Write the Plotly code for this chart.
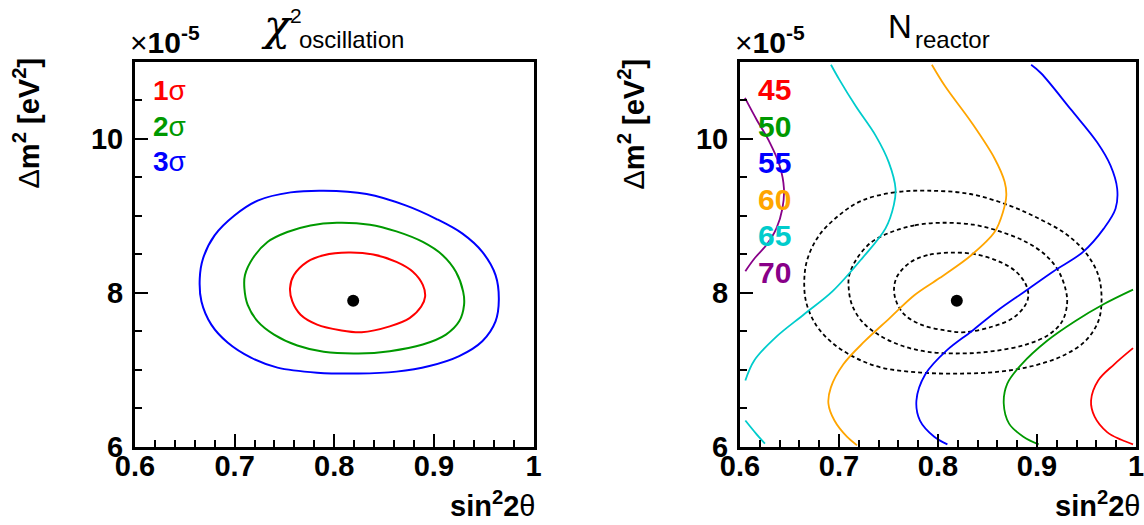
import plotly.graph_objects as go

W, H = 1144, 525

# ---------------- data (x: sin^2 2theta, y: dm^2 in units of 1e-5 eV^2) ----------------
best_fit_x = [0.819]
best_fit_y = [7.895]

sig1_x = [0.8143, 0.7894, 0.7728, 0.7595, 0.7556, 0.7579, 0.7662, 0.7828, 0.8060, 0.8275, 0.8557, 0.8756, 0.8873, 0.8912, 0.8889, 0.8789, 0.8624, 0.8391, 0.8143]
sig1_y = [8.521, 8.487, 8.401, 8.229, 8.058, 7.886, 7.714, 7.586, 7.513, 7.487, 7.563, 7.670, 7.821, 7.950, 8.101, 8.273, 8.401, 8.496, 8.521]

sig2_x = [0.8027, 0.7761, 0.7529, 0.7330, 0.7181, 0.7104, 0.7098, 0.7131, 0.7231, 0.7396, 0.7629, 0.7894, 0.8242, 0.8557, 0.8889, 0.9121, 0.9254, 0.9303, 0.9294, 0.9221, 0.9088, 0.8889, 0.8624, 0.8358, 0.8027]
sig2_y = [8.908, 8.874, 8.788, 8.659, 8.444, 8.229, 8.058, 7.843, 7.628, 7.456, 7.314, 7.233, 7.211, 7.241, 7.327, 7.456, 7.628, 7.843, 8.014, 8.272, 8.487, 8.659, 8.796, 8.883, 8.908]

sig3_x = [0.7894, 0.7562, 0.7231, 0.6998, 0.6799, 0.6683, 0.6650, 0.6667, 0.6766, 0.6932, 0.7164, 0.7430, 0.7828, 0.8242, 0.8624, 0.8955, 0.9254, 0.9486, 0.9619, 0.9652, 0.9619, 0.9486, 0.9287, 0.9022, 0.8723, 0.8325, 0.7894]
sig3_y = [9.325, 9.303, 9.196, 9.003, 8.745, 8.444, 8.187, 7.885, 7.585, 7.349, 7.156, 7.027, 6.962, 6.950, 6.975, 7.048, 7.177, 7.370, 7.628, 7.907, 8.229, 8.530, 8.767, 8.960, 9.131, 9.282, 9.325]

n45_x = [0.997, 0.978, 0.9618, 0.9546, 0.9582, 0.9708, 0.9852, 0.997]
n45_y = [7.28, 7.07, 6.86, 6.60, 6.39, 6.19, 6.09, 6.03]

n50_x = [0.997, 0.9672, 0.9384, 0.9096, 0.8844, 0.8700, 0.8664, 0.8718, 0.8862, 0.9017]
n50_y = [8.04, 7.85, 7.63, 7.37, 7.07, 6.82, 6.56, 6.30, 6.13, 6.03]

n55_x = [0.8941, 0.9041, 0.9342, 0.9609, 0.9743, 0.9810, 0.9793, 0.9676, 0.9466, 0.9168, 0.8880, 0.8592, 0.8340, 0.8088, 0.7872, 0.7782, 0.7818, 0.7962, 0.8095]
n55_y = [10.96, 10.85, 10.38, 9.95, 9.65, 9.35, 9.09, 8.835, 8.53, 8.28, 8.02, 7.76, 7.50, 7.25, 6.94, 6.60, 6.34, 6.13, 6.03]

n60_x = [0.7938, 0.8072, 0.8339, 0.8573, 0.8673, 0.8690, 0.8657, 0.8573, 0.8339, 0.8016, 0.7764, 0.7512, 0.7260, 0.7044, 0.6918, 0.6893, 0.6954, 0.7080, 0.7181]
n60_y = [10.96, 10.68, 10.21, 9.74, 9.44, 9.265, 9.05, 8.79, 8.49, 8.19, 7.97, 7.67, 7.37, 7.07, 6.77, 6.56, 6.34, 6.13, 6.02]

n65a_x = [0.6919, 0.7002, 0.7170, 0.7370, 0.7504, 0.7571, 0.7554, 0.7470, 0.7236, 0.6936, 0.6648, 0.6360, 0.6144, 0.6054]
n65a_y = [10.96, 10.77, 10.42, 10.04, 9.69, 9.35, 9.14, 8.835, 8.45, 8.02, 7.72, 7.42, 7.12, 6.86]

n65b_x = [0.6054, 0.6162, 0.6252]
n65b_y = [6.34, 6.17, 6.04]

n70_x = [0.6050, 0.6167, 0.6301, 0.6401, 0.6444, 0.6428, 0.6368, 0.6267, 0.6150, 0.6054]
n70_y = [10.53, 10.25, 9.95, 9.65, 9.35, 9.09, 8.835, 8.62, 8.45, 8.28]

x_tickvals = [0.6, 0.7, 0.8, 0.9, 1.0]
x_ticktext = ["0.6", "0.7", "0.8", "0.9", "1"]
y_tickvals = [6, 8, 10]
y_ticktext = ["6", "8", "10"]

sigma_labels = ["1", "2", "3"]
sigma_colors = ["#ff0000", "#009900", "#0000ff"]
n_labels = ["45", "50", "55", "60", "65", "70"]
n_colors = ["#ff0000", "#009900", "#0000ff", "#ffa500", "#00cccc", "#880088"]

# ---------------- figure ----------------
fig = go.Figure()

def line(x, y, color, axis, dash=None, width=2.0):
    xa, ya = axis
    fig.add_trace(go.Scatter(x=x, y=y, mode="lines", xaxis=xa, yaxis=ya,
                             line=dict(color=color, width=width, shape="spline", smoothing=1.0, dash=dash),
                             showlegend=False, hoverinfo="skip"))

# left panel
line(sig1_x, sig1_y, sigma_colors[0], ("x", "y"))
line(sig2_x, sig2_y, sigma_colors[1], ("x", "y"))
line(sig3_x, sig3_y, sigma_colors[2], ("x", "y"))
fig.add_trace(go.Scatter(x=best_fit_x, y=best_fit_y, mode="markers", xaxis="x", yaxis="y",
                         marker=dict(color="black", size=12), showlegend=False, hoverinfo="skip"))

# right panel
for ex, ey in [(sig1_x, sig1_y), (sig2_x, sig2_y), (sig3_x, sig3_y)]:
    line(ex, ey, "black", ("x2", "y2"), dash="4px,3px", width=1.8)
line(n45_x, n45_y, n_colors[0], ("x2", "y2"), width=1.8)
line(n50_x, n50_y, n_colors[1], ("x2", "y2"), width=1.8)
line(n55_x, n55_y, n_colors[2], ("x2", "y2"), width=1.8)
line(n60_x, n60_y, n_colors[3], ("x2", "y2"), width=1.8)
line(n65a_x, n65a_y, n_colors[4], ("x2", "y2"), width=1.8)
line(n65b_x, n65b_y, n_colors[4], ("x2", "y2"), width=1.8)
line(n70_x, n70_y, n_colors[5], ("x2", "y2"), width=1.8)
fig.add_trace(go.Scatter(x=best_fit_x, y=best_fit_y, mode="markers", xaxis="x2", yaxis="y2",
                         marker=dict(color="black", size=12), showlegend=False, hoverinfo="skip"))

FONT = "Liberation Sans"
tickfont = dict(family=FONT, size=29, color="black", weight="bold")

def xaxis_cfg(domain, anchor):
    return dict(domain=domain, anchor=anchor, range=[0.6, 1.0], tickvals=x_tickvals, ticktext=x_ticktext,
                ticks="inside", ticklen=13, tickwidth=1.5, tickcolor="black",
                minor=dict(dtick=0.02, ticks="inside", ticklen=7, tickwidth=1.5, tickcolor="black", showgrid=False),
                showline=True, linewidth=3, linecolor="black", mirror=True, automargin=False,
                showgrid=False, zeroline=False, tickfont=tickfont, ticklabelstandoff=-9,
                ticklabeloverflow="allow")

def yaxis_cfg(domain, anchor):
    return dict(domain=domain, anchor=anchor, range=[6, 11], tickvals=y_tickvals, ticktext=y_ticktext,
                ticks="inside", ticklen=13, tickwidth=1.5, tickcolor="black",
                minor=dict(dtick=0.5, tick0=6, ticks="inside", ticklen=7, tickwidth=1.5, tickcolor="black", showgrid=False),
                showline=True, linewidth=3, linecolor="black", mirror=True, automargin=False,
                showgrid=False, zeroline=False, tickfont=tickfont, ticklabelstandoff=3,
                ticklabeloverflow="allow")

ydom = [1 - 446.7 / H, 1 - 61.7 / H]
fig.update_layout(
    template="none",
    width=W, height=H, autosize=False,
    margin=dict(l=0, r=0, t=0, b=0, pad=0),
    paper_bgcolor="white", plot_bgcolor="white",
    xaxis=xaxis_cfg([135 / W, 533.5 / W], "y"),
    yaxis=yaxis_cfg(ydom, "x"),
    xaxis2=xaxis_cfg([740 / W, 1136 / W], "y2"),
    yaxis2=yaxis_cfg(ydom, "x2"),
)

def ann(text, px, py, size, xanchor="left", yanchor="middle", color="black", family=FONT,
        angle=0, weight="normal", style="normal"):
    fig.add_annotation(text=text, x=px / W, y=1 - py / H, xref="paper", yref="paper",
                       xanchor=xanchor, yanchor=yanchor, showarrow=False, textangle=angle,
                       font=dict(family=family, size=size, color=color, weight=weight, style=style),
                       borderpad=0)

for off in (0, 605):
    # exponent
    ann("×<b>10</b><sup><b>-5</b></sup>", 129 + off, 40, 30)
    # y title
    ann("Δ<b>m<sup>2</sup> [eV<sup>2</sup>]</b>", 27 + off, 57, 29, xanchor="center", yanchor="top", angle=-90)
    # x title
    ann("<b>sin<sup>2</sup>2</b>θ", 536 + off, 523, 29, xanchor="right", yanchor="bottom")

# titles
ann("χ", 260, 25, 43, family="DejaVu Serif", style="italic")
ann("2", 289, 16, 21)
ann("oscillation", 298, 40, 24)
ann("N", 887, 26, 33)
ann("reactor", 914, 40, 24)

# contour labels
for i, (lab, col) in enumerate(zip(sigma_labels, sigma_colors)):
    ann("<b>" + lab + "</b>σ", 152, 90 + 36 * i, 28, color=col)
for i, (lab, col) in enumerate(zip(n_labels, n_colors)):
    ann("<b>" + lab + "</b>", 757, 89.5 + 36.5 * i, 30, color=col)

fig.write_html("out.html", config={"displayModeBar": False},
               post_script="document.body.style.margin='0';document.body.style.overflow='hidden';")
